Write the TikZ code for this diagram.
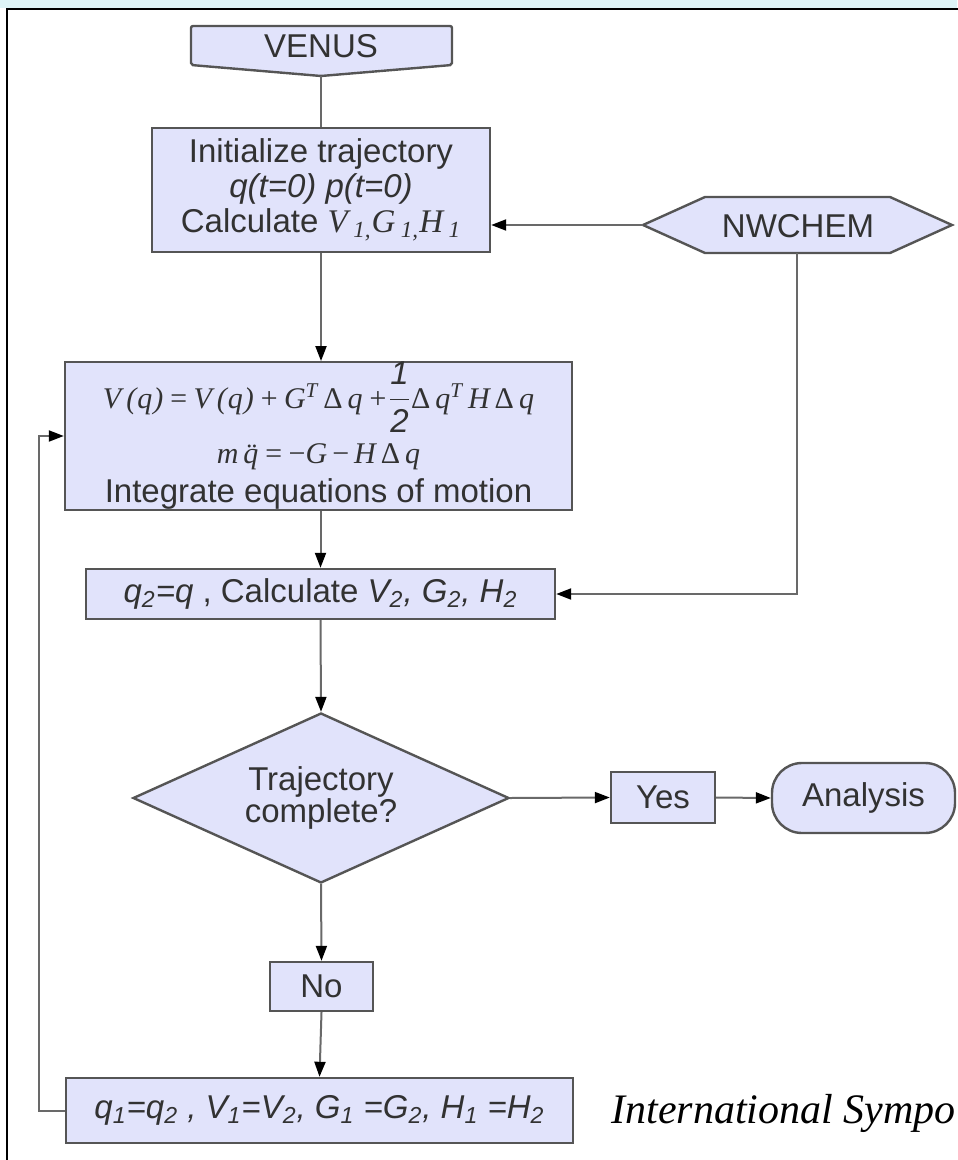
\documentclass[tikz,border=0pt]{standalone}
\usepackage{fontspec}
\setmainfont{Liberation Sans}
\newfontfamily\eqfont{Liberation Serif}
\usetikzlibrary{shapes.geometric,arrows.meta}

\definecolor{boxfill}{RGB}{225,227,251}
\definecolor{boxline}{RGB}{85,85,85}
\definecolor{wireclr}{RGB}{105,105,105}
\definecolor{ink}{RGB}{50,50,50}
\definecolor{band}{RGB}{222,244,247}

\tikzset{
  flowline/.style={draw=boxline, fill=boxfill, line width=1.2pt},
  flow/.style={flowline, text=ink, inner sep=0pt, align=center, font=\fontsize{16.5}{17.5}\selectfont},
  wire/.style={draw=wireclr, line width=1pt},
  go/.style={wire, -{Triangle[length=7.5pt,width=5.5pt,color=black]}}
}
\newcommand\eqtext[1]{{\eqfont\itshape\fontsize{15}{17}\selectfont #1}}

\begin{document}
\begin{tikzpicture}[x=0.5pt,y=-0.5pt]
\useasboundingbox (0,0) rectangle (957,1160);

\fill [band] (0,0) rectangle (957,8);
\draw [line width=1pt] (7,1200) -- (7,9) -- (1000,9);

\filldraw [flowline, rounded corners=1pt] (191,26) -- (452,26) -- (452,65) -- (321,76) -- (191,65) -- cycle;
\node [text=ink, font=\fontsize{16.5}{17.5}\selectfont] (venus) at (321,46) {VENUS};
\coordinate (venustip) at (321,76);

\filldraw [flowline] (643,225) -- (705,197) -- (890,197) -- (952,225) -- (890,253) -- (705,253) -- cycle;
\node [text=ink, font=\fontsize{16.5}{17.5}\selectfont] (nwchem) at (798,226) {NWCHEM};
\coordinate (nwleft) at (643,225);
\coordinate (nwbot) at (797,253);

\node [flow, minimum width=169pt, minimum height=62pt] (init) at (321,190)
  {Initialize trajectory\\ \textit{q(t=0) p(t=0)}\\ Calculate {\eqfont\itshape V\,\textsubscript{1,}G\,\textsubscript{1,}H\,\textsubscript{1}}};

\node [flow, minimum width=253.5pt, minimum height=73.5pt] (motion) at (318.5,436)
  {\eqtext{V\,({\kern0.5pt}q\kern0.5pt)\,=\,V\,({\kern0.5pt}q\kern0.5pt)\,+\,G\textsuperscript{T}\,{\upshape Δ}\,q\,+}$\displaystyle\frac{\mbox{\itshape 1}}{\mbox{\itshape 2}}$\eqtext{{\upshape Δ}\,q\textsuperscript{T}\,H\,{\upshape Δ}\,q}\\[5pt]
   \eqtext{m\,\"{q}\,=\,{\upshape −}G\,{\upshape −}\,H\,{\upshape Δ}\,q}\\[2pt]
   Integrate equations of motion};

\node [flow, minimum width=234.5pt, minimum height=25pt] (q2) at (320.5,594)
  {\textit{q\textsubscript{2}=q} , Calculate \textit{V\textsubscript{2}, G\textsubscript{2}, H\textsubscript{2}}};

\node [flow, shape=diamond, aspect=2.2, minimum width=188pt, minimum height=85pt, font=\fontsize{16.5}{16}\selectfont] (traj) at (321,798) {Trajectory\\complete?};

\node [flow, minimum width=52pt, minimum height=25.5pt] (yes) at (663,797.5) {Yes};
\node [flow, rounded corners=15pt, minimum width=91.5pt, minimum height=35pt] (analysis) at (863.5,798) {Analysis};
\node [flow, minimum width=51.5pt, minimum height=24.5pt] (no) at (321.5,986.5) {No};

\node [flow, minimum width=253.5pt, minimum height=32.5pt] (q1) at (319.5,1110.5)
  {\textit{q\textsubscript{1}=q\textsubscript{2} , V\textsubscript{1}=V\textsubscript{2}, G\textsubscript{1} =G\textsubscript{2}, H\textsubscript{1} =H\textsubscript{2}}};

\node [anchor=base west, inner sep=0pt, font=\eqfont\itshape\fontsize{21}{24}\selectfont] (venue) at (611,1123) {International Sympo};

\draw [wire] (venustip) -- (init);
\draw [go] (init.south) -- (init.south |- motion.north);
\draw [go] (nwleft) -- (nwleft -| init.east);
\draw [go] (nwbot) |- (q2.east);
\draw [go] (q2.north |- motion.south) -- (q2.north);
\draw [go] (q2.south) -- (traj.north);
\draw [go] (traj.east) -- (yes.west);
\draw [go] (yes.east) -- (analysis.west);
\draw [go] (traj.south) -- (no.north);
\draw [go] (no.south) -- (q1.north);
\draw [go] (q1.west) -- ++(-26,0) |- (motion.west);

\end{tikzpicture}
\end{document}
